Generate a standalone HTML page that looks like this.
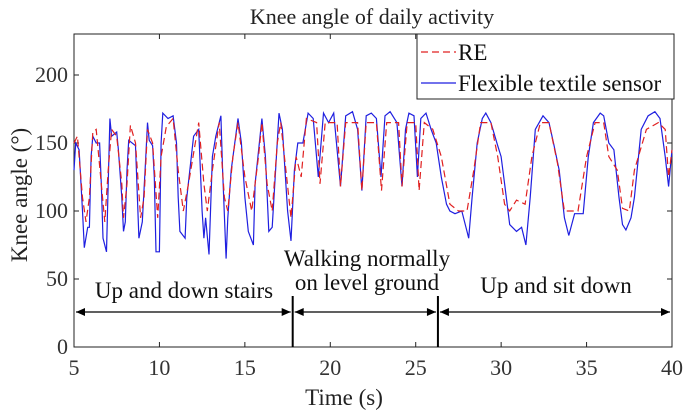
<!DOCTYPE html>
<html><head><meta charset="utf-8"><style>
html,body{margin:0;padding:0;background:#fff;}
svg{display:block;font-family:"Liberation Serif",serif;}
</style></head><body>
<svg id="chart" width="692" height="415">
<rect x="0" y="0" width="692" height="415" fill="#fff"/>
<g id="axes"></g>
<g id="series"></g>
<g id="annot"></g>
</svg>
<script>
const xTicks=[5,10,15,20,25,30,35,40];
const yTicks=[0,50,100,150,200];
const sensorT=[5,5.1,5.3,5.5,5.6,5.8,5.9,6.0,6.1,6.3,6.5,6.6,6.7,6.9,7.0,7.1,7.2,7.5,7.6,7.8,7.9,8.0,8.1,8.2,8.6,8.8,9.0,9.2,9.3,9.4,9.6,9.7,9.8,10.0,10.1,10.2,10.5,10.8,11.0,11.1,11.2,11.5,11.6,12.0,12.3,12.5,12.6,12.7,12.9,13.1,13.3,13.6,13.7,13.9,14.0,14.2,14.6,14.8,15.0,15.2,15.5,15.6,16.0,16.2,16.4,16.6,16.8,17.0,17.2,17.5,17.7,17.9,18.1,18.4,18.7,19.0,19.3,19.6,19.9,20.2,20.6,20.9,21.3,21.6,21.85,22.1,22.4,22.7,22.97,23.2,23.5,23.9,24.2,24.4,24.6,24.9,25.1,25.3,25.6,25.9,26.2,26.5,26.8,27.0,27.3,27.7,28.0,28.1,28.3,28.6,28.9,29.1,29.4,29.8,30.0,30.2,30.5,30.9,31.2,31.45,31.7,32.0,32.45,32.8,33.1,33.4,33.7,33.96,34.3,34.8,35.1,35.4,35.8,36.0,36.3,36.6,36.9,37.1,37.3,37.6,37.8,38.2,38.6,39.0,39.3,39.6,39.8,40];
const sensorV=[130,150,145,100,73,88,88,140,155,150,150,120,80,70,120,168,155,158,145,110,85,92,130,152,148,80,92,140,165,152,148,125,70,70,150,172,168,170,150,110,85,80,110,155,160,100,80,95,68,140,155,170,130,65,95,130,168,150,110,85,75,120,168,140,85,88,130,172,160,100,78,130,150,150,172,168,125,172,165,172,118,170,173,160,115,170,172,168,125,170,173,165,118,160,172,170,125,168,172,160,150,125,105,100,98,100,85,80,110,150,168,172,165,148,140,120,90,85,88,75,110,160,170,165,148,130,95,82,98,98,140,165,172,170,150,145,110,90,86,95,110,160,170,173,168,140,118,145];
const reT=[5,5.2,5.5,5.7,5.9,6.1,6.3,6.6,6.8,7.0,7.2,7.5,7.8,7.9,8.1,8.3,8.6,8.9,9.1,9.3,9.6,9.9,10.1,10.4,10.8,11.1,11.4,11.7,12.3,12.6,12.8,13.1,13.5,13.8,14.0,14.3,14.6,15.0,15.4,15.8,16.0,16.3,16.6,16.9,17.1,17.4,17.7,18.0,18.3,18.6,19.2,19.4,19.7,20.4,20.6,20.9,21.6,21.85,22.1,22.7,23.0,23.3,24.0,24.2,24.5,25.0,25.2,25.5,26.0,26.5,27.0,27.5,28.0,28.4,28.8,29.4,29.8,30.2,30.5,30.9,31.4,31.8,32.3,32.8,33.3,33.7,34.5,35.0,35.5,36.0,36.3,36.8,37.1,37.5,37.8,38.5,39.2,39.6,39.8,40];
const reV=[150,155,110,92,110,158,160,120,92,130,160,155,120,95,120,163,150,95,110,160,150,95,140,162,168,130,100,120,165,120,100,130,165,110,100,140,165,125,100,140,165,120,100,150,165,130,95,140,125,168,165,120,165,165,118,165,165,115,165,165,115,165,165,118,165,165,115,165,160,140,105,100,100,130,165,165,140,105,100,108,105,140,165,165,135,100,100,140,165,165,140,130,102,100,130,160,165,160,125,145];
const L=74,R=672,T=34,B=347;
const xs=t=>L+(t-5)/35*(R-L);
const ys=v=>B-v*1.36;
const NS="http://www.w3.org/2000/svg";
function mk(tag,attrs,parent,text){const e=document.createElementNS(NS,tag);for(const k in attrs)e.setAttribute(k,attrs[k]);if(text!==undefined)e.textContent=text;parent.appendChild(e);return e;}
const ax=document.getElementById('axes'),se=document.getElementById('series'),an=document.getElementById('annot');
const frame=mk('rect',{x:L,y:T,width:R-L,height:B-T,fill:'none',stroke:'#222','stroke-width':1},ax);


xTicks.forEach(t=>{
 mk('line',{x1:xs(t),x2:xs(t),y1:B,y2:B-5,stroke:'#222'},ax);
 mk('line',{x1:xs(t),x2:xs(t),y1:T,y2:T+5,stroke:'#222'},ax);
 const tx=mk('text',{x:xs(t),y:B+28,'text-anchor':'middle','font-size':22,fill:'#333'},ax,String(t));
 
 
});
yTicks.forEach(v=>{
 mk('line',{x1:L,x2:L+5,y1:ys(v),y2:ys(v),stroke:'#222'},ax);
 mk('line',{x1:R,x2:R-5,y1:ys(v),y2:ys(v),stroke:'#222'},ax);
 const tx=mk('text',{x:L-6,y:ys(v)+7,'text-anchor':'end','font-size':22,fill:'#333'},ax,String(v));
 
 
});
const xt=mk('text',{x:344,y:405,'text-anchor':'middle','font-size':23,fill:'#222'},ax,'Time (s)');


const yt=mk('text',{x:0,y:0,transform:'translate(27,195) rotate(-90)','text-anchor':'middle','font-size':23,fill:'#222'},ax,'Knee angle (°)');


const tt=mk('text',{x:372,y:24,'text-anchor':'middle','font-size':22,fill:'#222'},ax,'Knee angle of daily activity');


const pts=(ts,vs)=>ts.map((t,i)=>xs(t).toFixed(1)+','+ys(vs[i]).toFixed(1)).join(' ');
const s1=mk('polyline',{points:pts(sensorT,sensorV),fill:'none',stroke:'#1f1fe0','stroke-width':1.2},se);


const s2=mk('polyline',{points:pts(reT,reV),fill:'none',stroke:'#e02020','stroke-width':1.2,'stroke-dasharray':'7,4'},se);


[17.8,26.3].forEach(t=>{const l=mk('line',{x1:xs(t),x2:xs(t),y1:296,y2:B,stroke:'#000','stroke-width':2},an);

});
function arrow(t1,t2,name){
 const x1=xs(t1)+2,x2=xs(t2)-2,y=312;
 const g=mk('g',{},an);
 
 
 mk('line',{x1:x1,x2:x2,y1:y,y2:y,stroke:'#000','stroke-width':1.3},g);
 mk('polygon',{points:`${x1},${y} ${x1+9},${y-4} ${x1+9},${y+4}`,fill:'#000'},g);
 mk('polygon',{points:`${x2},${y} ${x2-9},${y-4} ${x2-9},${y+4}`,fill:'#000'},g);
}
arrow(5,17.8,'stairs-arrow');arrow(17.8,26.3,'walking-arrow');arrow(26.3,40,'sit-arrow');
[[184,298,'Up and down stairs'],[367,266,'Walking normally'],[367,290,'on level ground'],[556,293,'Up and sit down']].forEach(a=>{
 const tx=mk('text',{x:a[0],y:a[1],'text-anchor':'middle','font-size':23,fill:'#111'},an,a[2]);
 
 
});
const lg=mk('g',{},an);


mk('rect',{x:417,y:34,width:257,height:65,fill:'#fff',stroke:'#222'},lg);
mk('line',{x1:421,x2:456,y1:52,y2:52,stroke:'#e02020','stroke-dasharray':'7,4','stroke-width':1.2},lg);
mk('text',{x:458,y:60,'font-size':23,fill:'#111'},lg,'RE');
mk('line',{x1:421,x2:456,y1:83,y2:83,stroke:'#1f1fe0','stroke-width':1.2},lg);
mk('text',{x:458,y:91,'font-size':23,fill:'#111'},lg,'Flexible textile sensor');
</script>
</body></html>
